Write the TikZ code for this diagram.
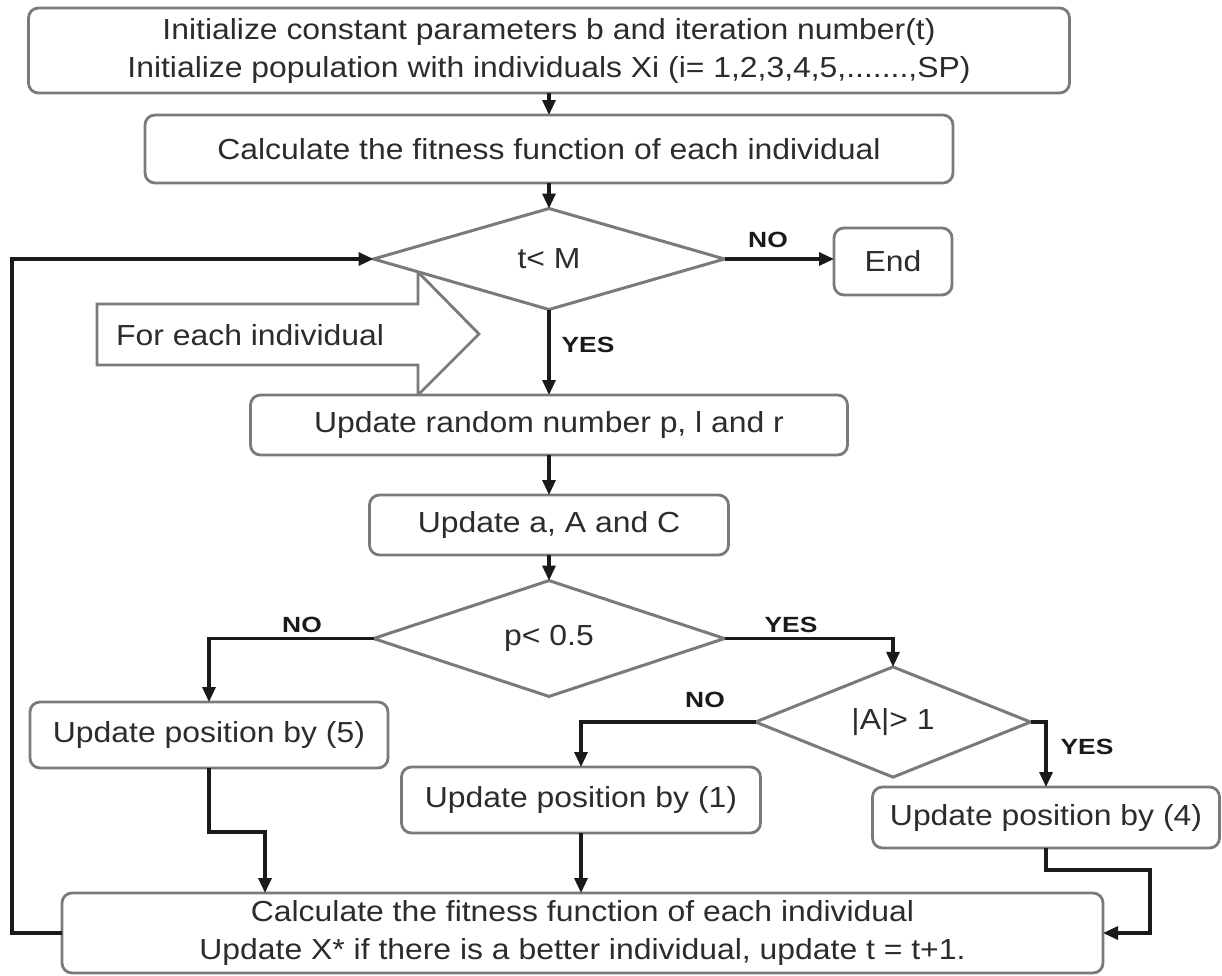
\documentclass[tikz,border=0pt]{standalone}
\usepackage{fontspec}
\setmainfont{Liberation Sans}[FakeStretch=1.10]
\newfontfamily\lblfont{Liberation Sans}[FakeStretch=1.2]
\usetikzlibrary{shapes.geometric,arrows.meta}
\definecolor{bordergray}{HTML}{7A7A7A}
\definecolor{txt}{HTML}{2C2C2C}
\definecolor{conncol}{HTML}{1A1A1A}
\begin{document}
\begin{tikzpicture}[x=1pt,y=-1pt,
 box/.style={draw=bordergray, line width=2.8pt, rounded corners=10pt, fill=white, inner sep=0pt, outer sep=0pt, text=txt, font=\fontsize{29}{38}\selectfont, align=center},
 dia/.style={diamond, draw=bordergray, line width=3pt, fill=white, inner sep=0pt, outer sep=0pt, text=txt, font=\fontsize{29}{38}\selectfont},
 conn/.style={draw=conncol, line width=3.2pt, -{Triangle[length=15pt,width=13pt]}},
 lbl/.style={font=\lblfont\bfseries\fontsize{22}{24}\selectfont, text=conncol, inner sep=0pt}
]
\fill[white] (0,0) rectangle (1222,975);
\useasboundingbox (0,0) rectangle (1222,975);

% For each individual arrow shape
\draw[draw=bordergray, line width=2.8pt, fill=white, line join=miter]
  (97,304) -- (418,304) -- (418,272) -- (479,334) -- (418,395) -- (418,365) -- (97,365) -- cycle;
\node[anchor=west, text=txt, font=\fontsize{29}{38}\selectfont, inner sep=0pt] (fei) at (116,335) {For each individual};

\node[box, minimum width=1041pt, minimum height=85pt] (b1) at (549,50.5)
  {Initialize constant parameters b and iteration number(t)\\Initialize population with individuals Xi (i= 1,2,3,4,5,.......,SP)};
\node[box, minimum width=808pt, minimum height=68pt] (b2) at (549,149) {Calculate the fitness function of each individual};
\node[dia, minimum width=351pt, minimum height=101pt] (d1) at (549,259) {t< M};
\node[box, minimum width=118pt, minimum height=67pt] (end) at (893,261.5) {End};
\node[box, minimum width=597pt, minimum height=60pt] (b3) at (549,425) {Update random number p, l and r};
\node[box, minimum width=359pt, minimum height=60pt] (b4) at (549,525) {Update a, A and C};
\node[dia, minimum width=351pt, minimum height=83pt] (d2) at (549,638.5) {p< 0.5};
\node[box, minimum width=358pt, minimum height=66pt] (b5) at (209,735) {Update position by (5)};
\node[dia, minimum width=275pt, minimum height=70pt] (d3) at (893,722) {|A|> 1};
\node[box, minimum width=359pt, minimum height=66pt] (b6) at (581,800) {Update position by (1)};
\node[box, minimum width=347pt, minimum height=61pt] (b7) at (1046,817.5) {Update position by (4)};
\node[box, minimum width=1041pt, minimum height=80pt] (b8) at (582.5,933)
  {Calculate the fitness function of each individual\\Update X* if there is a better individual, update t = t+1.};

\coordinate (lp) at (12,0);
\coordinate (j5) at (265,832);
\coordinate (j7) at (1150,870);

\draw[conn] (b1.south) -- (b2.north);
\draw[conn] (b2.south) -- (d1.north);
\draw[conn] (d1.east) -- (d1.east -| end.west);
\draw[conn] (d1.south) -- (b3.north);
\draw[conn] (b3.south) -- (b4.north);
\draw[conn] (b4.south) -- (d2.north);
\draw[conn] (d2.west) -| (b5.north);
\draw[conn] (d2.east) -| (d3.north);
\draw[conn] (d3.west) -| (b6.north);
\draw[conn] (d3.east) -| (b7.north);
\draw[conn] (b5.south) |- (j5) -- (j5 |- b8.north);
\draw[conn] (b6.south) -- (b6.south |- b8.north);
\draw[conn] (b7.south) |- (j7) |- (b8.east);
\draw[conn] (b8.west) -- (b8.west -| lp) -- (d1.west -| lp) -- (d1.west);

\node[lbl] (lno1) at (768,240) {NO};
\node[lbl] (lyes1) at (588,345) {YES};
\node[lbl] (lno2) at (302,625) {NO};
\node[lbl] (lyes2) at (791,625) {YES};
\node[lbl] (lno3) at (705,700) {NO};
\node[lbl] (lyes3) at (1087,747) {YES};
\end{tikzpicture}
\end{document}
